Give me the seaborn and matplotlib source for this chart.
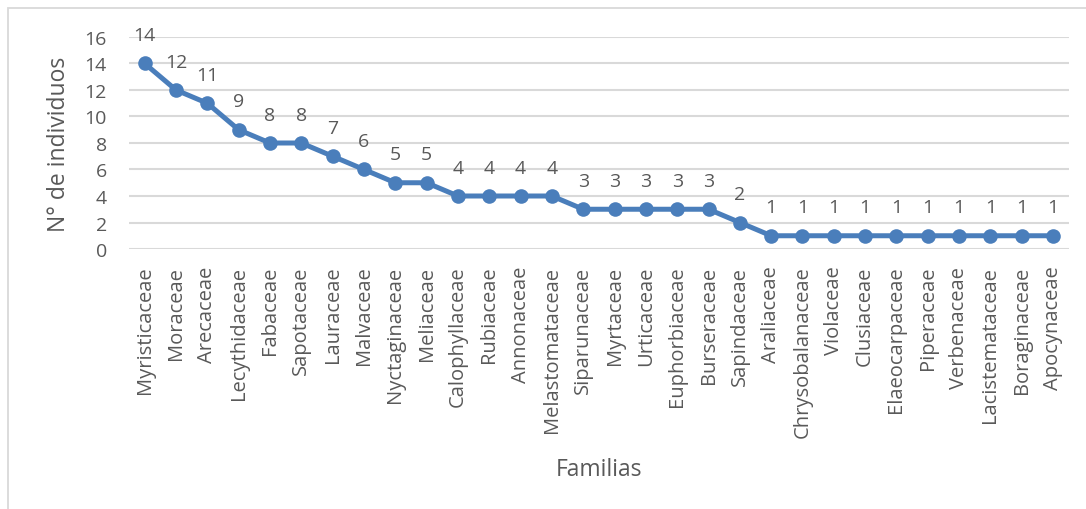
import matplotlib
matplotlib.use("Agg")
import matplotlib.pyplot as plt
import seaborn as sns
import pandas as pd
from matplotlib.patches import Rectangle

familias = [
    "Myristicaceae", "Moraceae", "Arecaceae", "Lecythidaceae", "Fabaceae",
    "Sapotaceae", "Lauraceae", "Malvaceae", "Nyctaginaceae", "Meliaceae",
    "Calophyllaceae", "Rubiaceae", "Annonaceae", "Melastomataceae",
    "Siparunaceae", "Myrtaceae", "Urticaceae", "Euphorbiaceae", "Burseraceae",
    "Sapindaceae", "Araliaceae", "Chrysobalanaceae", "Violaceae", "Clusiaceae",
    "Elaeocarpaceae", "Piperaceae", "Verbenaceae", "Lacistemataceae",
    "Boraginaceae", "Apocynaceae",
]
individuos = [14, 12, 11, 9, 8, 8, 7, 6, 5, 5, 4, 4, 4, 4,
              3, 3, 3, 3, 3, 2, 1, 1, 1, 1, 1, 1, 1, 1, 1, 1]
y_ticks = [0, 2, 4, 6, 8, 10, 12, 14, 16]

df = pd.DataFrame({"Familia": familias, "Individuos": individuos})

sns.set_theme(style="white")
plt.rcParams["font.family"] = ["Open Sans", "DejaVu Sans"]

TEXT = "#595959"
BLUE = "#4A7EBB"
GRID = "#D9D9D9"

fig = plt.figure(figsize=(10.86, 5.10), dpi=100)
ax = fig.add_axes([0.1188, 0.5098, 0.8653, 0.4157])

# outer chart frame
fig.patches.append(Rectangle((8 / 1086, -0.1), 1.2, 1 - 9 / 510 + 0.1,
                             transform=fig.transFigure, fill=False,
                             edgecolor=GRID, linewidth=1.3, zorder=0))

sns.lineplot(data=df, x="Familia", y="Individuos", sort=False, ax=ax,
             color=BLUE, linewidth=3.6, marker="o", markersize=10.5,
             markeredgewidth=0, zorder=3)

ax.set_xlim(-0.5, len(familias) - 0.5)
ax.set_ylim(0, 16)
ax.set_yticks(y_ticks)
ax.set_yticklabels([str(t) for t in y_ticks])
for t in y_ticks:
    ax.axhline(t, color=GRID, linewidth=1.5, zorder=1)

for i, v in enumerate(df["Individuos"]):
    ax.annotate(str(v), (i, v), xytext=(0, 14), textcoords="offset points",
                ha="center", va="bottom", fontsize=14, color=TEXT)

ax.set_xticks(range(len(familias)))
ax.set_xticklabels(familias, rotation=90, fontsize=14.5, color=TEXT)
ax.tick_params(axis="y", labelsize=14, colors=TEXT, length=0, pad=16)
ax.tick_params(axis="x", length=0, pad=12)
for s in ax.spines.values():
    s.set_visible(False)

ax.set_xlabel("Familias", fontsize=16.5, color=TEXT, labelpad=14)
ax.set_ylabel("N° de individuos", fontsize=16.5, color=TEXT, labelpad=10)

fig.savefig("out.png", dpi=100)
